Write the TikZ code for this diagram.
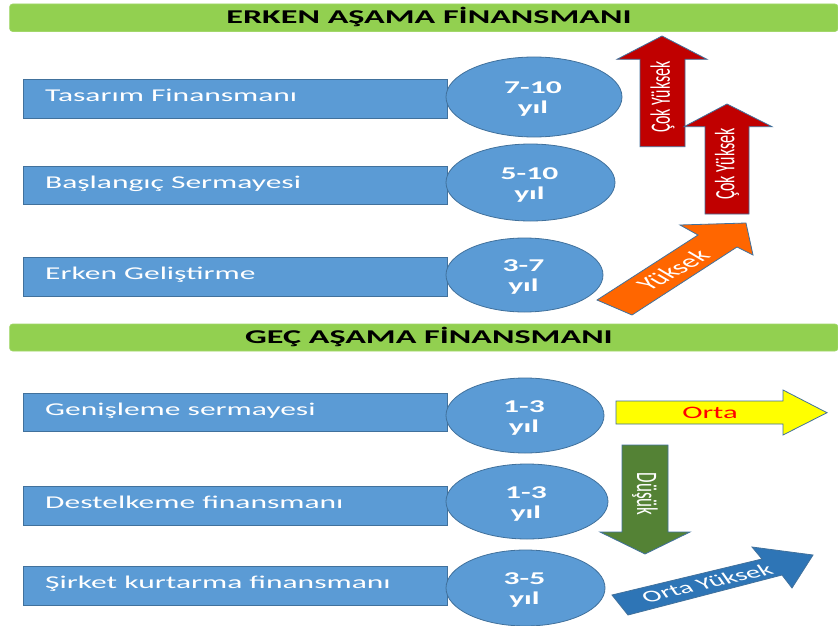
\documentclass[tikz,border=0pt]{standalone}
\usepackage{fontspec}
\setmainfont{Carlito}
\newfontfamily\wfont[FakeStretch=1.75]{Carlito}
\usetikzlibrary{shapes.geometric}
\definecolor{boxblue}{HTML}{5B9BD5}
\definecolor{edgeblue}{HTML}{41719C}
\definecolor{bargreen}{HTML}{92D050}
\definecolor{arrred}{HTML}{C00000}
\definecolor{arrorange}{HTML}{FF6600}
\definecolor{arryellow}{HTML}{FFFF00}
\definecolor{arrgreen}{HTML}{548235}
\definecolor{arrblue}{HTML}{2E75B6}
\begin{document}
\begin{tikzpicture}[x=1pt,y=-1pt,
  bar/.style={fill=bargreen, draw=bargreen!85!white, line width=0.6pt, rounded corners=3pt},
  bartxt/.style={anchor=base, inner sep=0, text=black, font=\wfont\bfseries\fontsize{19.5}{21}\selectfont},
  stagebox/.style={rectangle, fill=boxblue, draw=edgeblue, line width=0.8pt, anchor=north west,
    minimum width=424pt, minimum height=38.5pt, inner sep=0},
  boxtxt/.style={anchor=base west, inner sep=0, text=white, font=\wfont\fontsize{18}{20}\selectfont},
  yearell/.style={ellipse, fill=boxblue, draw=edgeblue, line width=0.8pt, inner sep=0},
  elltxt/.style={anchor=base, inner sep=0, text=white, font=\wfont\bfseries\fontsize{18}{20}\selectfont},
  arrowshape/.style={draw=edgeblue, line width=0.8pt, line join=miter},
  arrtxt/.style={inner sep=0, text=white, font=\fontsize{16}{18}\selectfont}
]
\useasboundingbox (0,0) rectangle (838,626);
\fill[white] (0,0) rectangle (838,626);

% header bars
\draw[bar] (9.6,4) rectangle (838,31.5);
\node[bartxt] (t1) at (429,23.3) {ERKEN AŞAMA FİNANSMANI};
\draw[bar] (9.6,324) rectangle (838,351);
\node[bartxt] (t2) at (429,343.3) {GEÇ AŞAMA FİNANSMANI};

% stage boxes
\node[stagebox] (r1) at (23,79.5) {};
\node[stagebox] (r2) at (23,165.5) {};
\node[stagebox] (r3) at (23,257) {};
\node[stagebox] (r4) at (23,392.5) {};
\node[stagebox] (r5) at (23,486) {};
\node[stagebox] (r6) at (23,566) {};
\node[boxtxt] (l1) at (45,102) {Tasarım Finansmanı};
\node[boxtxt] (l2) at (45,188) {Başlangıç Sermayesi};
\node[boxtxt] (l3) at (45,279.5) {Erken Geliştirme};
\node[boxtxt] (l4) at (45,415) {Genişleme sermayesi};
\node[boxtxt] (l5) at (45,508.5) {Destelkeme finansmanı};
\node[boxtxt] (l6) at (45,588.5) {Şirket kurtarma finansmanı};

% year ellipses
\node[yearell, minimum width=176pt, minimum height=80pt] (e1) at (534,97) {};
\node[yearell, minimum width=169pt, minimum height=77pt] (e2) at (530.5,182.5) {};
\node[yearell, minimum width=157pt, minimum height=74pt] (e3) at (524.5,275) {};
\node[yearell, minimum width=158pt, minimum height=75pt] (e4) at (525,415.5) {};
\node[yearell, minimum width=162pt, minimum height=75pt] (e5) at (527,501.5) {};
\node[yearell, minimum width=159pt, minimum height=76pt] (e6) at (525.5,588) {};
\node[elltxt] (y1a) at (533,93.5) {7-10};
\node[elltxt] (y1b) at (533,113.5) {yıl};
\node[elltxt] (y2a) at (529.5,179) {5-10};
\node[elltxt] (y2b) at (529.5,199) {yıl};
\node[elltxt] (y3a) at (523.5,271.5) {3-7};
\node[elltxt] (y3b) at (523.5,291.5) {yıl};
\node[elltxt] (y4a) at (524,412) {1-3};
\node[elltxt] (y4b) at (524,432) {yıl};
\node[elltxt] (y5a) at (526,498) {1-3};
\node[elltxt] (y5b) at (526,518) {yıl};
\node[elltxt] (y6a) at (524.5,584.5) {3-5};
\node[elltxt] (y6b) at (524.5,604.5) {yıl};

% red arrows
\draw[arrowshape, fill=arrred] (640,146.7) -- (640,59.3) -- (617,59.3) -- (662,36) -- (707,59.3) -- (685,59.3) -- (685,146.7) -- cycle;
\node[arrtxt] (a1) at (662.5,97) {\scalebox{1.75}[1]{\rotatebox{90}{Çok Yüksek}}};
\draw[arrowshape, fill=arrred] (705,214) -- (705,126.7) -- (684,126.7) -- (727,104) -- (772,126.7) -- (749,126.7) -- (749,214) -- cycle;
\node[arrtxt] (a2) at (727,164) {\scalebox{1.75}[1]{\rotatebox{90}{Çok Yüksek}}};

% orange arrow
\draw[arrowshape, fill=arrorange] (597,300) -- (632,315) -- (737,247) -- (753,255) -- (746,223) -- (680,225) -- (698,235) -- cycle;
\node[arrtxt, font=\fontsize{18}{20}\selectfont] (a3) at (673,270) {\scalebox{1.75}[1]{\rotatebox{44}{Yüksek}}};

% yellow arrow
\draw[arrowshape, fill=arryellow] (616,401) -- (783,401) -- (783,390) -- (827,412.7) -- (783,435) -- (783,424) -- (616,424) -- cycle;
\node[anchor=center, inner sep=0, text=red, font=\wfont\fontsize{17.5}{19}\selectfont] (a4) at (710,413) {Orta};

% green arrow
\draw[arrowshape, fill=arrgreen] (622,445) -- (668,445) -- (668,532) -- (690,532) -- (645,554) -- (600,532) -- (622,532) -- cycle;
\node[arrtxt, font=\fontsize{17}{19}\selectfont] (a5) at (645,494) {\scalebox{1.75}[1]{\rotatebox{-90}{Düşük}}};

% blue arrow
\draw[arrowshape, fill=arrblue] (612,595) -- (628,615) -- (782,575) -- (792,588) -- (813,555) -- (752,547) -- (762,559) -- cycle;
\node[arrtxt, font=\fontsize{16.5}{18}\selectfont] (a6) at (707,583) {\scalebox{1.75}[1]{\rotatebox{22}{Orta Yüksek}}};
\end{tikzpicture}
\end{document}
